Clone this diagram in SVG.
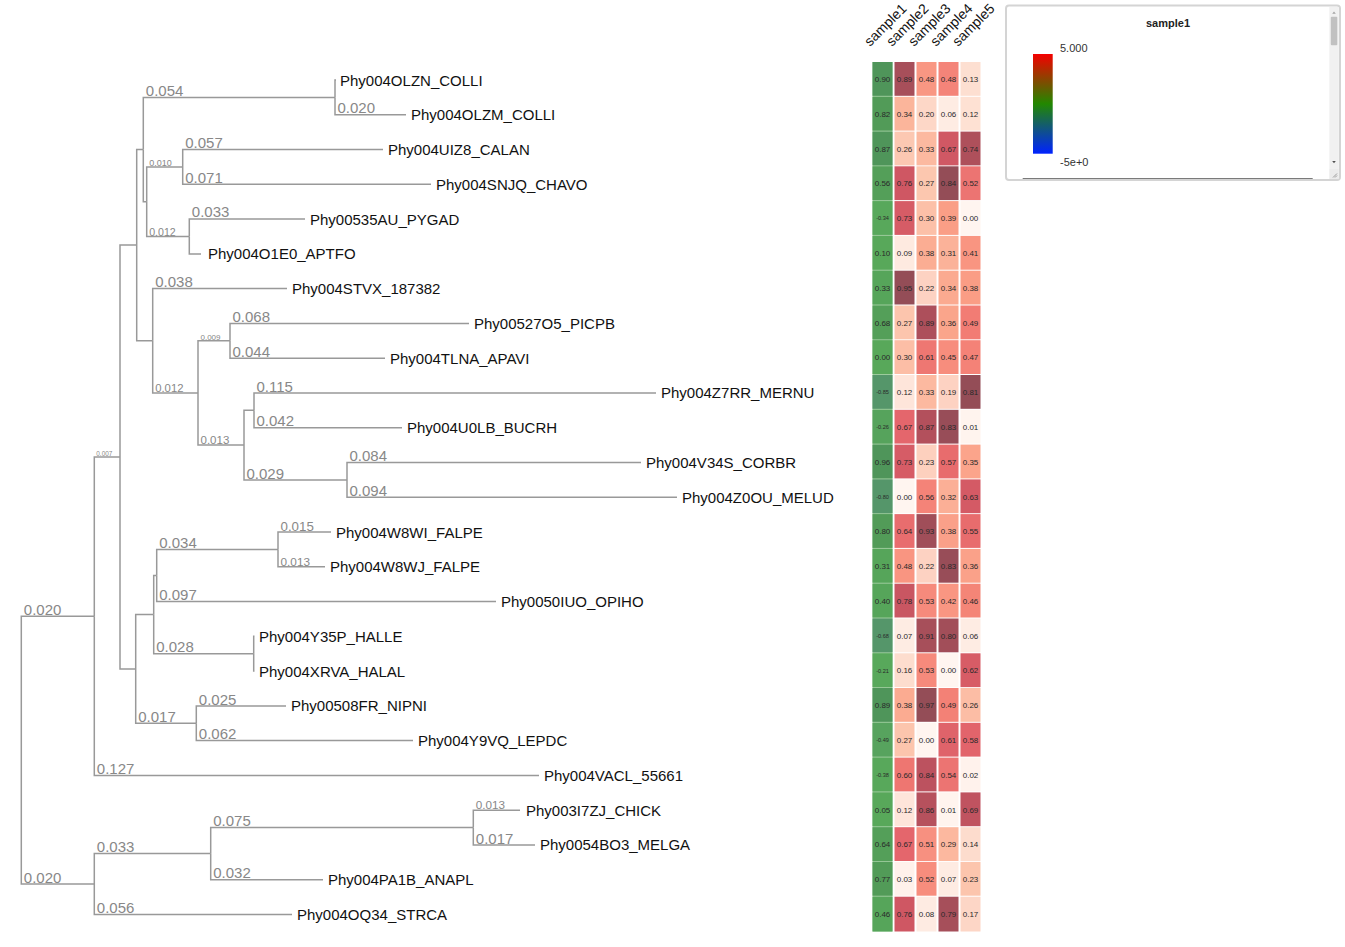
<svg xmlns="http://www.w3.org/2000/svg" width="1345" height="947" viewBox="0 0 1345 947">
<style>
text{font-family:"Liberation Sans",Arial,sans-serif}
.br{fill:none;stroke:#999;stroke-width:1.5}
.lf{font-size:15px;fill:#111}
.bl{fill:#888}
.hd{font-size:14px;fill:#111}
.v{font-size:8px;text-anchor:middle;fill:#2a2a2a}
.n{font-size:5.6px;text-anchor:middle;fill:#2a2a2a}
.lg{font-size:11px;fill:#333}
</style>
<defs>
<linearGradient id="grad" x1="0" y1="0" x2="0" y2="1">
<stop offset="0" stop-color="#f40000"/>
<stop offset="0.5" stop-color="#228800"/>
<stop offset="1" stop-color="#0022ff"/>
</linearGradient>
</defs>
<rect width="1345" height="947" fill="#fff"/>

<g id="connectors">
<path class="br" d="M21.3,750.1V616.2H94.3"/>
<path class="br" d="M21.3,750.1V884.1H94.3"/>
<path class="br" d="M94.3,616.2V457H120"/>
<path class="br" d="M94.3,616.2V775.4H539"/>
<path class="br" d="M120,457V245.1H136.7"/>
<path class="br" d="M120,457V668.9H135.7"/>
<path class="br" d="M136.7,245.1V149.5H143.3"/>
<path class="br" d="M136.7,245.1V340.8H152.7"/>
<path class="br" d="M143.3,149.5V97.4H335"/>
<path class="br" d="M143.3,149.5V201.7H146.7"/>
<path class="br" d="M335,97.4V80H336"/>
<path class="br" d="M335,97.4V114.8H406"/>
<path class="br" d="M146.7,201.7V166.9H182.7"/>
<path class="br" d="M146.7,201.7V236.5H189.3"/>
<path class="br" d="M182.7,166.9V149.5H383"/>
<path class="br" d="M182.7,166.9V184.3H431"/>
<path class="br" d="M189.3,236.5V219.1H305"/>
<path class="br" d="M189.3,236.5V253.9H201"/>
<path class="br" d="M152.7,340.8V288.6H287"/>
<path class="br" d="M152.7,340.8V393H198"/>
<path class="br" d="M198,393V340.8H230"/>
<path class="br" d="M198,393V445.1H244"/>
<path class="br" d="M230,340.8V323.4H469"/>
<path class="br" d="M230,340.8V358.2H385"/>
<path class="br" d="M244,445.1V410.3H254"/>
<path class="br" d="M244,445.1V479.9H347"/>
<path class="br" d="M254,410.3V392.9H656"/>
<path class="br" d="M254,410.3V427.7H402"/>
<path class="br" d="M347,479.9V462.5H641"/>
<path class="br" d="M347,479.9V497.2H677"/>
<path class="br" d="M135.7,668.9V614.6H153.7"/>
<path class="br" d="M135.7,668.9V723.2H196.3"/>
<path class="br" d="M153.7,614.6V575.5H156.7"/>
<path class="br" d="M153.7,614.6V653.7H253.7"/>
<path class="br" d="M156.7,575.5V549.4H278"/>
<path class="br" d="M156.7,575.5V601.6H496"/>
<path class="br" d="M278,549.4V532H331"/>
<path class="br" d="M278,549.4V566.8H325"/>
<path class="br" d="M253.7,653.7V636.3H254.5"/>
<path class="br" d="M253.7,653.7V671.1H254.5"/>
<path class="br" d="M196.3,723.2V705.9H286"/>
<path class="br" d="M196.3,723.2V740.6H413"/>
<path class="br" d="M94.3,884.1V853.6H210.7"/>
<path class="br" d="M94.3,884.1V914.5H292"/>
<path class="br" d="M210.7,853.6V827.5H473.3"/>
<path class="br" d="M210.7,853.6V879.7H323"/>
<path class="br" d="M473.3,827.5V810.2H520"/>
<path class="br" d="M473.3,827.5V844.9H535"/>
</g>

<g id="branch-labels" class="bl">
<text x="145.8" y="96" font-size="15">0.054</text>
<text x="337.5" y="113.4" font-size="15">0.020</text>
<text x="185.2" y="148.1" font-size="15">0.057</text>
<text x="185.2" y="182.9" font-size="15">0.071</text>
<text x="149.2" y="165.9" font-size="9">0.010</text>
<text x="149.2" y="235.5" font-size="10.6">0.012</text>
<text x="191.8" y="217.3" font-size="15">0.033</text>
<text x="155.2" y="287.2" font-size="15">0.038</text>
<text x="155.2" y="392" font-size="11.3">0.012</text>
<text x="200.5" y="340" font-size="8">0.009</text>
<text x="232.5" y="322" font-size="15">0.068</text>
<text x="232.5" y="356.8" font-size="15">0.044</text>
<text x="200.5" y="444.1" font-size="11.5">0.013</text>
<text x="256.5" y="391.5" font-size="15">0.115</text>
<text x="256.5" y="426.3" font-size="15">0.042</text>
<text x="246.5" y="478.5" font-size="15">0.029</text>
<text x="349.5" y="461.1" font-size="15">0.084</text>
<text x="349.5" y="495.8" font-size="15">0.094</text>
<text x="96.3" y="456.3" font-size="6.4">0.007</text>
<text x="159.2" y="548" font-size="15">0.034</text>
<text x="280.5" y="530.8" font-size="13.3">0.015</text>
<text x="280.5" y="565.8" font-size="11.8">0.013</text>
<text x="159.2" y="600.2" font-size="15">0.097</text>
<text x="156.2" y="652.3" font-size="15">0.028</text>
<text x="138.2" y="721.8" font-size="15">0.017</text>
<text x="198.8" y="704.5" font-size="15">0.025</text>
<text x="198.8" y="739.2" font-size="15">0.062</text>
<text x="96.8" y="774" font-size="15">0.127</text>
<text x="23.8" y="614.8" font-size="15">0.020</text>
<text x="23.8" y="882.7" font-size="15">0.020</text>
<text x="96.8" y="852.2" font-size="15">0.033</text>
<text x="213.2" y="826.1" font-size="15">0.075</text>
<text x="475.8" y="809.2" font-size="11.7">0.013</text>
<text x="475.8" y="843.5" font-size="15">0.017</text>
<text x="213.2" y="878.3" font-size="15">0.032</text>
<text x="96.8" y="913.1" font-size="15">0.056</text>
</g>

<g id="leaves" class="lf">
<text id="leaf0" x="340" y="85.5">Phy004OLZN_COLLI</text>
<text id="leaf1" x="411" y="120.3">Phy004OLZM_COLLI</text>
<text id="leaf2" x="388" y="155">Phy004UIZ8_CALAN</text>
<text id="leaf3" x="436" y="189.8">Phy004SNJQ_CHAVO</text>
<text id="leaf4" x="310" y="224.6">Phy00535AU_PYGAD</text>
<text id="leaf5" x="208" y="259.4">Phy004O1E0_APTFO</text>
<text id="leaf6" x="292" y="294.1">Phy004STVX_187382</text>
<text id="leaf7" x="474" y="328.9">Phy00527O5_PICPB</text>
<text id="leaf8" x="390" y="363.7">Phy004TLNA_APAVI</text>
<text id="leaf9" x="661" y="398.4">Phy004Z7RR_MERNU</text>
<text id="leaf10" x="407" y="433.2">Phy004U0LB_BUCRH</text>
<text id="leaf11" x="646" y="468">Phy004V34S_CORBR</text>
<text id="leaf12" x="682" y="502.7">Phy004Z0OU_MELUD</text>
<text id="leaf13" x="336" y="537.5">Phy004W8WI_FALPE</text>
<text id="leaf14" x="330" y="572.3">Phy004W8WJ_FALPE</text>
<text id="leaf15" x="501" y="607.1">Phy0050IUO_OPIHO</text>
<text id="leaf16" x="259" y="641.8">Phy004Y35P_HALLE</text>
<text id="leaf17" x="259" y="676.6">Phy004XRVA_HALAL</text>
<text id="leaf18" x="291" y="711.4">Phy00508FR_NIPNI</text>
<text id="leaf19" x="418" y="746.1">Phy004Y9VQ_LEPDC</text>
<text id="leaf20" x="544" y="780.9">Phy004VACL_55661</text>
<text id="leaf21" x="526" y="815.7">Phy003I7ZJ_CHICK</text>
<text id="leaf22" x="540" y="850.4">Phy0054BO3_MELGA</text>
<text id="leaf23" x="328" y="885.2">Phy004PA1B_ANAPL</text>
<text id="leaf24" x="297" y="920">Phy004OQ34_STRCA</text>
</g>

<g id="headers" class="hd">
<text x="870" y="47" transform="rotate(-45 870 47)">sample1</text>
<text x="892" y="47" transform="rotate(-45 892 47)">sample2</text>
<text x="914" y="47" transform="rotate(-45 914 47)">sample3</text>
<text x="936" y="47" transform="rotate(-45 936 47)">sample4</text>
<text x="958" y="47" transform="rotate(-45 958 47)">sample5</text>
</g>

<g id="heatmap">
<rect x="872.5" y="62" width="20" height="869.5" fill="#9ccb9c"/>
<g transform="translate(0,62)"><rect x="872.5" width="20" height="33.8" fill="#4f955a"/><rect x="894.5" width="20" height="33.8" fill="#a74f5a"/><rect x="916.5" width="20" height="33.8" fill="#f99783"/><rect x="938.5" width="20" height="33.8" fill="#f48479"/><rect x="960.5" width="20" height="33.8" fill="#fddfd1"/><text class="v" x="882.5" y="20.2">0.90</text><text class="v" x="904.5" y="20.2">0.89</text><text class="v" x="926.5" y="20.2">0.48</text><text class="v" x="948.5" y="20.2">0.48</text><text class="v" x="970.5" y="20.2">0.13</text></g>
<g transform="translate(0,96.8)"><rect x="872.5" width="20" height="33.8" fill="#529b58"/><rect x="894.5" width="20" height="33.8" fill="#fbb59b"/><rect x="916.5" width="20" height="33.8" fill="#fdd7c7"/><rect x="938.5" width="20" height="33.8" fill="#feece3"/><rect x="960.5" width="20" height="33.8" fill="#fee1d3"/><text class="v" x="882.5" y="20.2">0.82</text><text class="v" x="904.5" y="20.2">0.34</text><text class="v" x="926.5" y="20.2">0.20</text><text class="v" x="948.5" y="20.2">0.06</text><text class="v" x="970.5" y="20.2">0.12</text></g>
<g transform="translate(0,131.6)"><rect x="872.5" width="20" height="33.8" fill="#4f955a"/><rect x="894.5" width="20" height="33.8" fill="#fcc8b2"/><rect x="916.5" width="20" height="33.8" fill="#fcb9a0"/><rect x="938.5" width="20" height="33.8" fill="#d05864"/><rect x="960.5" width="20" height="33.8" fill="#ae505b"/><text class="v" x="882.5" y="20.2">0.87</text><text class="v" x="904.5" y="20.2">0.26</text><text class="v" x="926.5" y="20.2">0.33</text><text class="v" x="948.5" y="20.2">0.67</text><text class="v" x="970.5" y="20.2">0.74</text></g>
<g transform="translate(0,166.3)"><rect x="872.5" width="20" height="33.8" fill="#549f59"/><rect x="894.5" width="20" height="33.8" fill="#cf5763"/><rect x="916.5" width="20" height="33.8" fill="#fcc7af"/><rect x="938.5" width="20" height="33.8" fill="#944d57"/><rect x="960.5" width="20" height="33.8" fill="#ec7472"/><text class="v" x="882.5" y="20.2">0.56</text><text class="v" x="904.5" y="20.2">0.76</text><text class="v" x="926.5" y="20.2">0.27</text><text class="v" x="948.5" y="20.2">0.84</text><text class="v" x="970.5" y="20.2">0.52</text></g>
<g transform="translate(0,201.1)"><rect x="872.5" width="20" height="33.8" fill="#58a85b"/><rect x="894.5" width="20" height="33.8" fill="#d65c66"/><rect x="916.5" width="20" height="33.8" fill="#fcc0a8"/><rect x="938.5" width="20" height="33.8" fill="#fa9e86"/><rect x="960.5" width="20" height="33.8" fill="#fff5f0"/><text class="n" x="882.5" y="19.4">-0.34</text><text class="v" x="904.5" y="20.2">0.73</text><text class="v" x="926.5" y="20.2">0.30</text><text class="v" x="948.5" y="20.2">0.39</text><text class="v" x="970.5" y="20.2">0.00</text></g>
<g transform="translate(0,235.9)"><rect x="872.5" width="20" height="33.8" fill="#58a85a"/><rect x="894.5" width="20" height="33.8" fill="#feeae0"/><rect x="916.5" width="20" height="33.8" fill="#fbad93"/><rect x="938.5" width="20" height="33.8" fill="#fbb299"/><rect x="960.5" width="20" height="33.8" fill="#f99581"/><text class="v" x="882.5" y="20.2">0.10</text><text class="v" x="904.5" y="20.2">0.09</text><text class="v" x="926.5" y="20.2">0.38</text><text class="v" x="948.5" y="20.2">0.31</text><text class="v" x="970.5" y="20.2">0.41</text></g>
<g transform="translate(0,270.7)"><rect x="872.5" width="20" height="33.8" fill="#56a55a"/><rect x="894.5" width="20" height="33.8" fill="#944d57"/><rect x="916.5" width="20" height="33.8" fill="#fdd2c2"/><rect x="938.5" width="20" height="33.8" fill="#fbaa90"/><rect x="960.5" width="20" height="33.8" fill="#fa9d85"/><text class="v" x="882.5" y="20.2">0.33</text><text class="v" x="904.5" y="20.2">0.95</text><text class="v" x="926.5" y="20.2">0.22</text><text class="v" x="948.5" y="20.2">0.34</text><text class="v" x="970.5" y="20.2">0.38</text></g>
<g transform="translate(0,305.5)"><rect x="872.5" width="20" height="33.8" fill="#549f59"/><rect x="894.5" width="20" height="33.8" fill="#fcc5ad"/><rect x="916.5" width="20" height="33.8" fill="#ad4f5b"/><rect x="938.5" width="20" height="33.8" fill="#faa58b"/><rect x="960.5" width="20" height="33.8" fill="#f27c74"/><text class="v" x="882.5" y="20.2">0.68</text><text class="v" x="904.5" y="20.2">0.27</text><text class="v" x="926.5" y="20.2">0.89</text><text class="v" x="948.5" y="20.2">0.36</text><text class="v" x="970.5" y="20.2">0.49</text></g>
<g transform="translate(0,340.2)"><rect x="872.5" width="20" height="33.8" fill="#58a85a"/><rect x="894.5" width="20" height="33.8" fill="#fcbea6"/><rect x="916.5" width="20" height="33.8" fill="#ee7772"/><rect x="938.5" width="20" height="33.8" fill="#f78d7d"/><rect x="960.5" width="20" height="33.8" fill="#f48277"/><text class="v" x="882.5" y="20.2">0.00</text><text class="v" x="904.5" y="20.2">0.30</text><text class="v" x="926.5" y="20.2">0.61</text><text class="v" x="948.5" y="20.2">0.45</text><text class="v" x="970.5" y="20.2">0.47</text></g>
<g transform="translate(0,375)"><rect x="872.5" width="20" height="33.8" fill="#55966a"/><rect x="894.5" width="20" height="33.8" fill="#fee5da"/><rect x="916.5" width="20" height="33.8" fill="#fcb9a0"/><rect x="938.5" width="20" height="33.8" fill="#fdd2c2"/><rect x="960.5" width="20" height="33.8" fill="#944d57"/><text class="n" x="882.5" y="19.4">-0.85</text><text class="v" x="904.5" y="20.2">0.12</text><text class="v" x="926.5" y="20.2">0.33</text><text class="v" x="948.5" y="20.2">0.19</text><text class="v" x="970.5" y="20.2">0.81</text></g>
<g transform="translate(0,409.8)"><rect x="872.5" width="20" height="33.8" fill="#56a35c"/><rect x="894.5" width="20" height="33.8" fill="#e4666c"/><rect x="916.5" width="20" height="33.8" fill="#b3505c"/><rect x="938.5" width="20" height="33.8" fill="#984d58"/><rect x="960.5" width="20" height="33.8" fill="#fff4ee"/><text class="n" x="882.5" y="19.4">-0.26</text><text class="v" x="904.5" y="20.2">0.67</text><text class="v" x="926.5" y="20.2">0.87</text><text class="v" x="948.5" y="20.2">0.83</text><text class="v" x="970.5" y="20.2">0.01</text></g>
<g transform="translate(0,444.6)"><rect x="872.5" width="20" height="33.8" fill="#4f955a"/><rect x="894.5" width="20" height="33.8" fill="#d65c66"/><rect x="916.5" width="20" height="33.8" fill="#fdd0be"/><rect x="938.5" width="20" height="33.8" fill="#e86c6d"/><rect x="960.5" width="20" height="33.8" fill="#fba48b"/><text class="v" x="882.5" y="20.2">0.96</text><text class="v" x="904.5" y="20.2">0.73</text><text class="v" x="926.5" y="20.2">0.23</text><text class="v" x="948.5" y="20.2">0.57</text><text class="v" x="970.5" y="20.2">0.35</text></g>
<g transform="translate(0,479.4)"><rect x="872.5" width="20" height="33.8" fill="#55966a"/><rect x="894.5" width="20" height="33.8" fill="#fff5f0"/><rect x="916.5" width="20" height="33.8" fill="#f48378"/><rect x="938.5" width="20" height="33.8" fill="#fbaf96"/><rect x="960.5" width="20" height="33.8" fill="#d45a65"/><text class="n" x="882.5" y="19.4">-0.80</text><text class="v" x="904.5" y="20.2">0.00</text><text class="v" x="926.5" y="20.2">0.56</text><text class="v" x="948.5" y="20.2">0.32</text><text class="v" x="970.5" y="20.2">0.63</text></g>
<g transform="translate(0,514.1)"><rect x="872.5" width="20" height="33.8" fill="#529b58"/><rect x="894.5" width="20" height="33.8" fill="#e86d6e"/><rect x="916.5" width="20" height="33.8" fill="#a04e59"/><rect x="938.5" width="20" height="33.8" fill="#faa089"/><rect x="960.5" width="20" height="33.8" fill="#e86c6d"/><text class="v" x="882.5" y="20.2">0.80</text><text class="v" x="904.5" y="20.2">0.64</text><text class="v" x="926.5" y="20.2">0.93</text><text class="v" x="948.5" y="20.2">0.38</text><text class="v" x="970.5" y="20.2">0.55</text></g>
<g transform="translate(0,548.9)"><rect x="872.5" width="20" height="33.8" fill="#56a55a"/><rect x="894.5" width="20" height="33.8" fill="#f99581"/><rect x="916.5" width="20" height="33.8" fill="#fdd2c2"/><rect x="938.5" width="20" height="33.8" fill="#984d58"/><rect x="960.5" width="20" height="33.8" fill="#faa189"/><text class="v" x="882.5" y="20.2">0.31</text><text class="v" x="904.5" y="20.2">0.48</text><text class="v" x="926.5" y="20.2">0.22</text><text class="v" x="948.5" y="20.2">0.83</text><text class="v" x="970.5" y="20.2">0.36</text></g>
<g transform="translate(0,583.7)"><rect x="872.5" width="20" height="33.8" fill="#56a55a"/><rect x="894.5" width="20" height="33.8" fill="#c95662"/><rect x="916.5" width="20" height="33.8" fill="#f68a7c"/><rect x="938.5" width="20" height="33.8" fill="#f99682"/><rect x="960.5" width="20" height="33.8" fill="#f48577"/><text class="v" x="882.5" y="20.2">0.40</text><text class="v" x="904.5" y="20.2">0.78</text><text class="v" x="926.5" y="20.2">0.53</text><text class="v" x="948.5" y="20.2">0.42</text><text class="v" x="970.5" y="20.2">0.46</text></g>
<g transform="translate(0,618.5)"><rect x="872.5" width="20" height="33.8" fill="#55966a"/><rect x="894.5" width="20" height="33.8" fill="#feece3"/><rect x="916.5" width="20" height="33.8" fill="#a74f5a"/><rect x="938.5" width="20" height="33.8" fill="#a24e59"/><rect x="960.5" width="20" height="33.8" fill="#feece3"/><text class="n" x="882.5" y="19.4">-0.68</text><text class="v" x="904.5" y="20.2">0.07</text><text class="v" x="926.5" y="20.2">0.91</text><text class="v" x="948.5" y="20.2">0.80</text><text class="v" x="970.5" y="20.2">0.06</text></g>
<g transform="translate(0,653.3)"><rect x="872.5" width="20" height="33.8" fill="#58a85b"/><rect x="894.5" width="20" height="33.8" fill="#fdddce"/><rect x="916.5" width="20" height="33.8" fill="#f68a7c"/><rect x="938.5" width="20" height="33.8" fill="#fff5f0"/><rect x="960.5" width="20" height="33.8" fill="#d75c66"/><text class="n" x="882.5" y="19.4">-0.21</text><text class="v" x="904.5" y="20.2">0.16</text><text class="v" x="926.5" y="20.2">0.53</text><text class="v" x="948.5" y="20.2">0.00</text><text class="v" x="970.5" y="20.2">0.62</text></g>
<g transform="translate(0,688)"><rect x="872.5" width="20" height="33.8" fill="#4f955a"/><rect x="894.5" width="20" height="33.8" fill="#fbab91"/><rect x="916.5" width="20" height="33.8" fill="#944d57"/><rect x="938.5" width="20" height="33.8" fill="#f38176"/><rect x="960.5" width="20" height="33.8" fill="#fcbda5"/><text class="v" x="882.5" y="20.2">0.89</text><text class="v" x="904.5" y="20.2">0.38</text><text class="v" x="926.5" y="20.2">0.97</text><text class="v" x="948.5" y="20.2">0.49</text><text class="v" x="970.5" y="20.2">0.26</text></g>
<g transform="translate(0,722.8)"><rect x="872.5" width="20" height="33.8" fill="#57a35e"/><rect x="894.5" width="20" height="33.8" fill="#fcc5ad"/><rect x="916.5" width="20" height="33.8" fill="#fff5f0"/><rect x="938.5" width="20" height="33.8" fill="#df636a"/><rect x="960.5" width="20" height="33.8" fill="#e2646b"/><text class="n" x="882.5" y="19.4">-0.49</text><text class="v" x="904.5" y="20.2">0.27</text><text class="v" x="926.5" y="20.2">0.00</text><text class="v" x="948.5" y="20.2">0.61</text><text class="v" x="970.5" y="20.2">0.58</text></g>
<g transform="translate(0,757.6)"><rect x="872.5" width="20" height="33.8" fill="#58a85b"/><rect x="894.5" width="20" height="33.8" fill="#ee7671"/><rect x="916.5" width="20" height="33.8" fill="#bc525f"/><rect x="938.5" width="20" height="33.8" fill="#ec7472"/><rect x="960.5" width="20" height="33.8" fill="#fff2ec"/><text class="n" x="882.5" y="19.4">-0.38</text><text class="v" x="904.5" y="20.2">0.60</text><text class="v" x="926.5" y="20.2">0.84</text><text class="v" x="948.5" y="20.2">0.54</text><text class="v" x="970.5" y="20.2">0.02</text></g>
<g transform="translate(0,792.4)"><rect x="872.5" width="20" height="33.8" fill="#58a85a"/><rect x="894.5" width="20" height="33.8" fill="#fee5da"/><rect x="916.5" width="20" height="33.8" fill="#b6515d"/><rect x="938.5" width="20" height="33.8" fill="#fff4ee"/><rect x="960.5" width="20" height="33.8" fill="#c05360"/><text class="v" x="882.5" y="20.2">0.05</text><text class="v" x="904.5" y="20.2">0.12</text><text class="v" x="926.5" y="20.2">0.86</text><text class="v" x="948.5" y="20.2">0.01</text><text class="v" x="970.5" y="20.2">0.69</text></g>
<g transform="translate(0,827.2)"><rect x="872.5" width="20" height="33.8" fill="#549f59"/><rect x="894.5" width="20" height="33.8" fill="#e4666c"/><rect x="916.5" width="20" height="33.8" fill="#f79080"/><rect x="938.5" width="20" height="33.8" fill="#fcb89f"/><rect x="960.5" width="20" height="33.8" fill="#fddccd"/><text class="v" x="882.5" y="20.2">0.64</text><text class="v" x="904.5" y="20.2">0.67</text><text class="v" x="926.5" y="20.2">0.51</text><text class="v" x="948.5" y="20.2">0.29</text><text class="v" x="970.5" y="20.2">0.14</text></g>
<g transform="translate(0,861.9)"><rect x="872.5" width="20" height="33.8" fill="#529b58"/><rect x="894.5" width="20" height="33.8" fill="#fff1eb"/><rect x="916.5" width="20" height="33.8" fill="#f78d7d"/><rect x="938.5" width="20" height="33.8" fill="#feebe2"/><rect x="960.5" width="20" height="33.8" fill="#fcc5ad"/><text class="v" x="882.5" y="20.2">0.77</text><text class="v" x="904.5" y="20.2">0.03</text><text class="v" x="926.5" y="20.2">0.52</text><text class="v" x="948.5" y="20.2">0.07</text><text class="v" x="970.5" y="20.2">0.23</text></g>
<g transform="translate(0,896.7)"><rect x="872.5" width="20" height="34.8" fill="#56a55a"/><rect x="894.5" width="20" height="34.8" fill="#cf5763"/><rect x="916.5" width="20" height="34.8" fill="#feebe2"/><rect x="938.5" width="20" height="34.8" fill="#a64f5a"/><rect x="960.5" width="20" height="34.8" fill="#fdd6c6"/><text class="v" x="882.5" y="20.2">0.46</text><text class="v" x="904.5" y="20.2">0.76</text><text class="v" x="926.5" y="20.2">0.08</text><text class="v" x="948.5" y="20.2">0.79</text><text class="v" x="970.5" y="20.2">0.17</text></g>
</g>

<g id="legend">
<rect x="1006" y="5.5" width="334" height="174.5" rx="3" fill="#fff" stroke="#d4d4d4" stroke-width="2"/>
<rect x="1329.3" y="7" width="9.5" height="162" fill="#f1f1f1"/>
<rect x="1329.3" y="169" width="9.5" height="10" fill="#ececec"/>
<rect x="1330.8" y="16.7" width="6.5" height="28.5" rx="1" fill="#c1c1c1"/>
<polygon points="1332.2,13.8 1335.8,13.8 1334,11.6" fill="#a3a3a3"/>
<polygon points="1332.2,161 1335.8,161 1334,163.2" fill="#505050"/>
<path d="M1333,177.5L1337,173.5M1335,177.5L1337,175.5" stroke="#888" stroke-width="0.8"/>
<line x1="1022.7" y1="178.5" x2="1312.7" y2="178.5" stroke="#7a7a7a" stroke-width="1"/>
<text x="1168" y="26.8" text-anchor="middle" font-size="11" font-weight="bold" fill="#222">sample1</text>
<rect x="1033" y="54" width="19.7" height="99.7" fill="url(#grad)"/>
<text class="lg" x="1060" y="51.8">5.000</text>
<text class="lg" x="1060" y="165.8">-5e+0</text>
</g>
</svg>
